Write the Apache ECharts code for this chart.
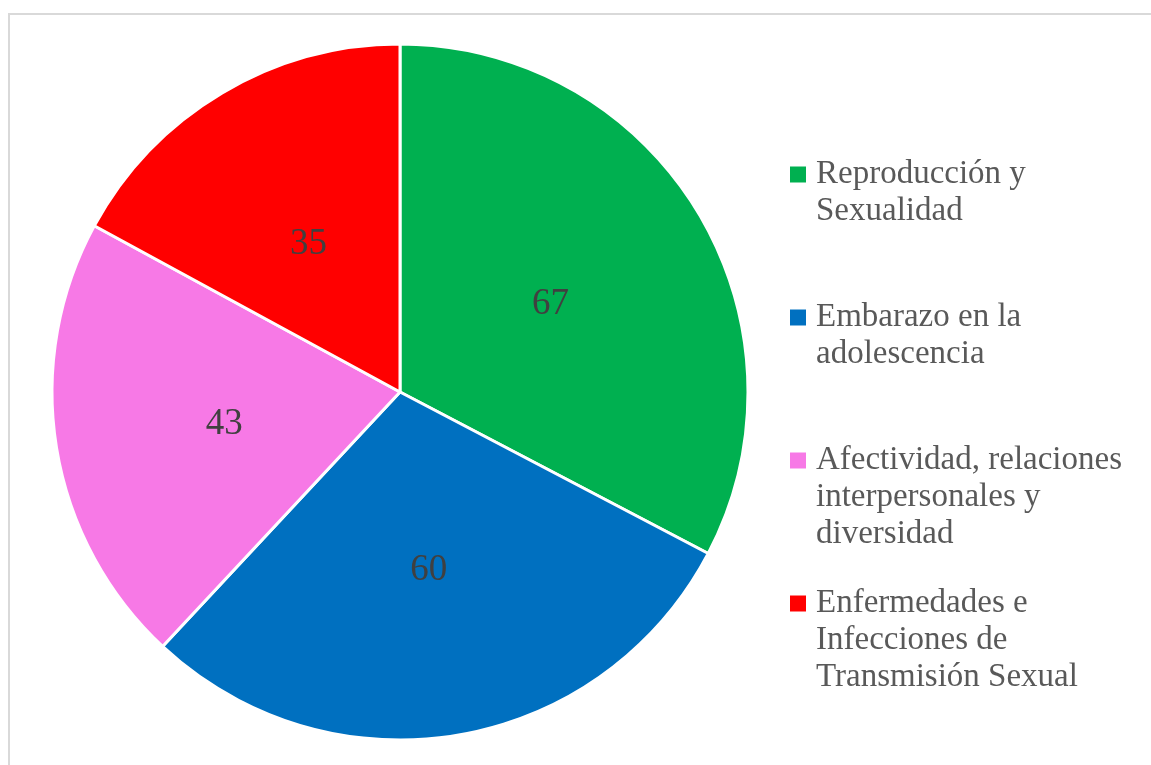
<!DOCTYPE html>
<html>
<head>
<meta charset="utf-8">
<script src="https://cdn.jsdelivr.net/npm/echarts@6/dist/echarts.min.js"></script>
<style>
  html, body { margin: 0; padding: 0; background: #ffffff; }
  #chart { width: 1151px; height: 765px; }
</style>
</head>
<body>
<div id="chart"></div>
<script>
// Topics and number of mentions for each
const categories = [
  'Reproducción y Sexualidad',
  'Embarazo en la adolescencia',
  'Afectividad, relaciones interpersonales y diversidad',
  'Enfermedades e Infecciones de Transmisión Sexual'
];
const values = [67, 60, 43, 35];
// How each legend entry wraps onto lines
const legendLines = [
  ['Reproducción y', 'Sexualidad'],
  ['Embarazo en la', 'adolescencia'],
  ['Afectividad, relaciones', 'interpersonales y', 'diversidad'],
  ['Enfermedades e', 'Infecciones de', 'Transmisión Sexual']
];
const colors = ['#00b050', '#0070c0', '#f779e6', '#ff0000'];

const FONT = '"Liberation Serif", "Times New Roman", serif';
const LINE_H = 37;
const MAX_LINES = 3;

// Rich-text styles: a coloured square per entry, spacing, and indent for wrapped lines
const rich = {
  t: { fontFamily: FONT, fontSize: 33, color: '#595959', lineHeight: LINE_H },
  gap: { width: 10, height: 16 },
  ind: { width: 26, height: 16, lineHeight: LINE_H }
};
colors.forEach((c, i) => {
  rich['sq' + i] = { width: 16, height: 16, backgroundColor: c, lineHeight: LINE_H };
});

const chart = echarts.init(document.getElementById('chart'), null, { renderer: 'canvas' });

chart.setOption({
  backgroundColor: '#ffffff',
  animation: false,
  color: colors,
  graphic: [{
    type: 'rect',
    silent: true,
    shape: { x: 9, y: 14, width: 1200, height: 800 },
    style: { fill: 'none', stroke: '#d9d9d9', lineWidth: 2 }
  }],
  legend: {
    orient: 'vertical',
    left: 780,
    top: 151,
    icon: 'none',
    itemWidth: 0,
    itemHeight: 16,
    itemGap: 32,
    selectedMode: true,
    data: categories,
    formatter: function (name) {
      const i = categories.indexOf(name);
      const lines = legendLines[i].slice();
      while (lines.length < MAX_LINES) lines.push(' ');
      return lines.map((l, k) =>
        k === 0 ? '{sq' + i + '|}{gap|}{t|' + l + '}' : '{ind|}{t|' + l + '}'
      ).join('\n');
    },
    textStyle: { rich: rich, lineHeight: LINE_H }
  },
  series: [{
    type: 'pie',
    center: [400, 392],
    radius: [0, 348],
    startAngle: 90,
    clockwise: true,
    data: categories.map((name, i) => ({ name: name, value: values[i] })),
    itemStyle: { borderColor: '#ffffff', borderWidth: 3 },
    label: {
      show: true,
      position: 'inside',
      formatter: '{c}',
      fontFamily: FONT,
      fontSize: 37,
      color: '#404040',
      offset: [-1, 4]
    },
    labelLine: { show: false },
    emphasis: { scale: false }
  }]
});
</script>
</body>
</html>
